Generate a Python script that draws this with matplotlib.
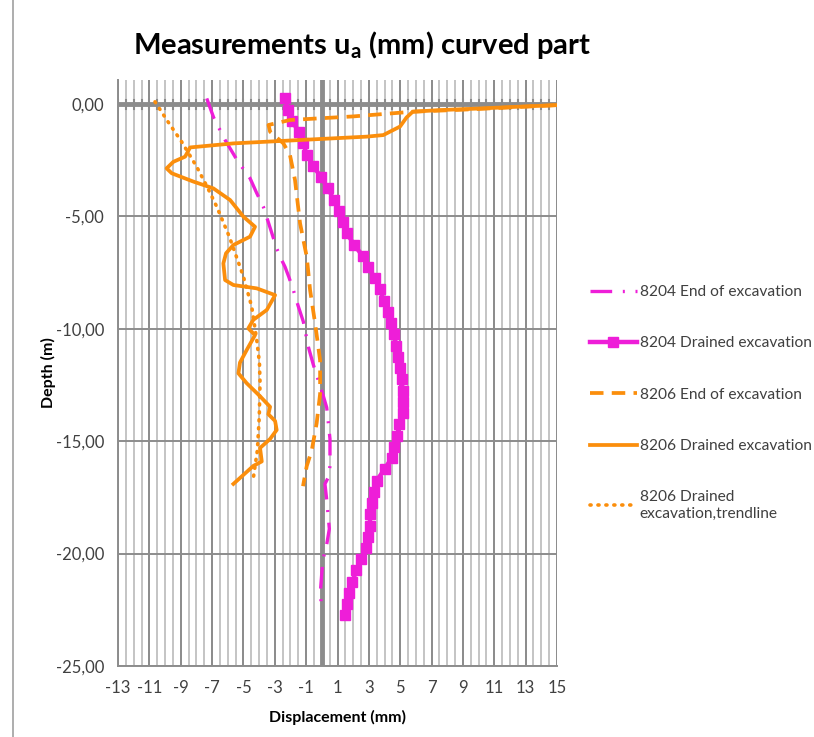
import matplotlib.pyplot as plt
from matplotlib.lines import Line2D
from matplotlib.ticker import FixedLocator, MultipleLocator, FuncFormatter

plt.rcParams['font.family'] = ['Lato', 'DejaVu Sans']
plt.rcParams['axes.unicode_minus'] = False

MAGENTA = '#ee1ed8'
ORANGE = '#fb8e0c'

# 8204 End of excavation
end_8204_x = [-7.34, -6.9, -6.17, -5.4, -4.58, -4.16, -3.73, -3.3, -2.88, -2.56, -2.35, -2.1, -1.82,
              -1.5, -1.18, -0.86, -0.54, -0.22, 0.1, 0.31, 0.42, 0.52, 0.52, 0.42, 0.2, 0.31, 0.48,
              0.31, 0.06, -0.07, -0.05]
end_8204_y = [0.25, -0.6, -1.6, -2.5, -3.3, -3.95, -4.57, -5.5, -6.42, -6.94, -7.24, -7.7, -8.27,
              -9.0, -9.68, -10.8, -11.6, -12.3, -13.0, -13.5, -14.2, -14.9, -16.1, -16.6, -16.9,
              -17.6, -18.9, -19.6, -20.3, -21.5, -22.3]

# 8204 Drained excavation
drained_8204_y = [0.25, -0.25, -0.75, -1.25, -1.75, -2.25, -2.75, -3.25, -3.75, -4.25, -4.75, -5.25,
                  -5.75, -6.25, -6.75, -7.25, -7.75, -8.25, -8.75, -9.25, -9.75, -10.25, -10.75,
                  -11.25, -11.75, -12.25, -12.75, -13.25, -13.75, -14.25, -14.75, -15.25, -15.75,
                  -16.25, -16.75, -17.25, -17.75, -18.25, -18.75, -19.25, -19.75, -20.25, -20.75,
                  -21.25, -21.75, -22.25, -22.75]
drained_8204_x = [-2.35, -2.15, -1.9, -1.45, -1.2, -0.95, -0.55, -0.05, 0.4, 0.75, 1.1, 1.35,
                  1.6, 2.05, 2.6, 2.95, 3.4, 3.7, 3.95, 4.2, 4.4, 4.6, 4.75,
                  4.85, 5.0, 5.1, 5.15, 5.2, 5.15, 4.95, 4.8, 4.6, 4.45,
                  4.0, 3.5, 3.3, 3.2, 3.1, 3.05, 2.95, 2.8, 2.5, 2.2,
                  1.95, 1.75, 1.6, 1.45]

# 8206 End of excavation
end_8206_x = [14.9, 12.0, 9.0, 5.8, 2.0, -2.03, -3.4, -3.3, -2.45, -2.03, -1.71, -1.39, -0.96,
              -0.75, -0.43, -0.11, -0.11, -0.33, -0.64, -0.96, -1.2]
end_8206_y = [-0.05, -0.15, -0.25, -0.34, -0.55, -0.71, -0.93, -1.23, -1.75, -2.27, -3.38, -5.3,
              -6.8, -8.27, -9.75, -11.4, -12.9, -14.2, -15.4, -16.1, -17.0]

# 8206 Drained excavation
drained_8206_x = [14.9, 12.5, 10.0, 7.5, 5.8, 5.4, 4.99, 3.92, 2.86, -1.39, -5.64, -8.4, -8.72,
                  -9.47, -9.9, -9.57, -8.19, -6.92, -5.85, -5.0, -4.26, -4.58, -5.64, -6.11,
                  -6.28, -6.17, -5.64, -4.15, -2.98, -3.51, -4.37, -4.69, -4.26, -4.79, -5.22,
                  -5.32, -4.79, -3.94, -3.3, -3.41, -2.98, -2.88, -3.3, -3.94, -3.83, -4.37, -5.64]
drained_8206_y = [-0.05, -0.12, -0.2, -0.27, -0.34, -0.6, -1.0, -1.38, -1.45, -1.6, -1.75, -1.93,
                  -2.34, -2.57, -2.86, -3.08, -3.45, -3.75, -4.27, -5.01, -5.46, -5.9, -6.27,
                  -6.64, -7.09, -7.83, -8.05, -8.2, -8.5, -9.16, -9.6, -9.98, -10.28, -10.94,
                  -11.5, -11.98, -12.42, -13.0, -13.47, -13.8, -14.1, -14.5, -14.9, -15.3, -15.9,
                  -16.1, -16.9]

# 8206 Drained excavation, trendline
trend_8206_x = [-10.64, -9.8, -8.94, -7.98, -7.3, -6.7, -5.9, -5.22, -5.0, -4.47, -4.15, -3.98,
                -3.94, -3.99, -4.11, -4.37]
trend_8206_y = [0.1, -0.8, -1.68, -2.79, -3.7, -4.57, -5.9, -7.24, -7.68, -9.02, -10.5, -11.5,
                -12.4, -13.9, -15.4, -16.65]

x_ticks = list(range(-13, 16, 2))

fig = plt.figure(figsize=(8.14, 7.37), dpi=100)
ax = fig.add_axes([118 / 814, 1 - 666 / 737, 439 / 814, 586 / 737])

# grid: light every 0.5 mm, darker at labelled ticks, horizontal every 5 m
for v in [i * 0.5 for i in range(-26, 31)]:
    ax.axvline(v, color='#c4c4c4', linewidth=1.4, zorder=0)
for v in x_ticks:
    ax.axvline(v, color='#8c8c8c', linewidth=1.4, zorder=0.5)
for h in range(-25, 1, 5):
    ax.axhline(h, color='#8c8c8c', linewidth=1.4, zorder=0.5)
ax.axvline(0, color='#8c8c8c', linewidth=3.5, zorder=0.6)
ax.axhline(0, color='#8c8c8c', linewidth=3.5, zorder=0.6)
for v in [i * 0.5 for i in range(-26, 31)]:
    ax.plot([v, v], [-0.2, 0.2], color='#8c8c8c', linewidth=1.5, zorder=0.6)

ax.plot(end_8204_x, end_8204_y, color=MAGENTA, linewidth=2.4,
        dashes=[6.5, 3.2, 0.6, 3.2], label='8204 End of excavation')
ax.plot(drained_8204_x, drained_8204_y, color=MAGENTA, linewidth=3.2, marker='s',
        markersize=7.5, label='8204 Drained excavation')
ax.plot(end_8206_x, end_8206_y, color=ORANGE, linewidth=2.7,
        dashes=[3.6, 2.2], label='8206 End of excavation')
ax.plot(drained_8206_x, drained_8206_y, color=ORANGE, linewidth=2.7,
        label='8206 Drained excavation')
ax.plot(trend_8206_x, trend_8206_y, color=ORANGE, linewidth=2.6,
        linestyle=(0, (0.3, 1.9)), dash_capstyle='round',
        label='8206 Drained\nexcavation,trendline')

ax.set_xlim(-13, 15)
ax.set_ylim(-25, 1.07)
ax.xaxis.set_major_locator(FixedLocator(x_ticks))
ax.yaxis.set_major_locator(MultipleLocator(5))
ax.yaxis.set_major_formatter(FuncFormatter(lambda v, p: f'{v:.2f}'.replace('.', ',').replace('-0,00', '0,00')))
ax.tick_params(length=0, labelsize=12, colors='#404040', pad=10)

for s in ['top', 'right']:
    ax.spines[s].set_visible(False)
for s in ['left', 'bottom']:
    ax.spines[s].set_color('#8c8c8c')
    ax.spines[s].set_linewidth(1.4)

ax.set_xlabel('Displacement (mm)', fontsize=11.5, fontweight='bold', labelpad=10)
ax.set_ylabel('Depth (m)', fontsize=11.5, fontweight='bold', labelpad=0)

fig.text(362 / 814, 1 - 45 / 737, 'Measurements u$_\\mathregular{a}$ (mm) curved part',
         ha='center', va='center', fontsize=21, fontweight='bold')

ax.legend(loc='upper left', bbox_to_anchor=((590 - 118) / 439, (666 - 285) / 586), frameon=False,
          fontsize=11.2, labelspacing=2.4, handlelength=3.0, handletextpad=0.2,
          labelcolor='#404040', borderaxespad=0, borderpad=0)

fig.add_artist(Line2D([13 / 814, 13 / 814], [0, 1], color='#a0a0a0', linewidth=1.2))

plt.savefig('out.png', dpi=100)
plt.close()
